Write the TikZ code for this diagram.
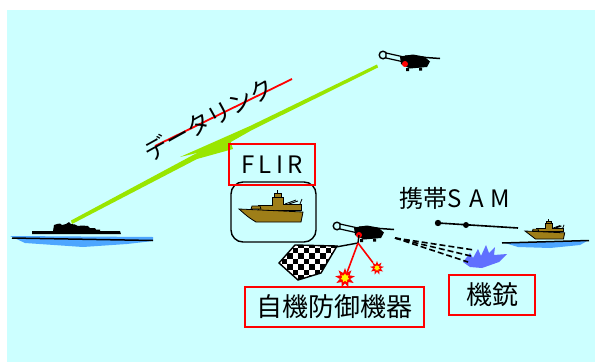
\documentclass[tikz,border=0pt]{standalone}
\usepackage{fontspec}
\newfontfamily\jfont{Noto Sans CJK JP}
\newfontfamily\jwide[LetterSpace=30]{Noto Sans CJK JP}
\newfontfamily\jspaced[LetterSpace=18]{Noto Sans CJK JP}
\usepackage{tikz}
\usetikzlibrary{shapes.geometric, positioning}
\definecolor{sky}{HTML}{CCFFFF}
\definecolor{linkgreen}{HTML}{99E600}
\definecolor{sea}{HTML}{4DA6FF}
\definecolor{hullc}{HTML}{9E7E18}
\definecolor{splashc}{HTML}{6070FF}

\begin{document}
\begin{tikzpicture}[x=1pt, y=-1pt,
    tag/.style={draw=red, line width=2.6pt, inner sep=0pt, text=black},
    jp/.style={font=\jfont\fontsize{#1}{#1}\selectfont},
    fire/.style={line width=1.6pt, color=red},
    tracer/.style={dash pattern=on 6pt off 3pt, line width=1.6pt},
    boom/.style={star, star points=9, star point ratio=1.9, fill=red, inner sep=0pt},
    core/.style={star, star points=7, star point ratio=1.6, fill=yellow, inner sep=0pt},
    heli/.pic={
      % tail rotor and boom
      \draw[line width=1.4pt, fill=sky] (0,0) circle (3.8);
      \draw[line width=1.2pt, fill=sky] (3,-2) -- (21,2) -- (21,7) -- (3,3) -- cycle;
      % fuselage, rotor, skids
      \fill (17,1.5) -- (30,-0.5) -- (41,1.5) -- (47,6.5) -- (44,12) -- (27,13.5) -- (18,9) -- cycle;
      \draw[line width=1.5pt] (22,1) -- (57,3.5);
      \fill (23,13) rectangle (26,16) (36,12.5) rectangle (39,15.5);
      \fill[red] (22,9) circle (3);
      \coordinate (-hub) at (22,9);
    },
    boat/.pic={
      % deck house, bridge, gun, rack
      \filldraw[fill=hullc, line width=0.7pt] (19,1) -- (19,-4) -- (33,-4) -- (33,-12) -- (44,-12) -- (44,-5) -- (62,-5) -- (62,1) -- cycle;
      \filldraw[fill=hullc, line width=0.7pt] (35,-12) rectangle (42,-16);
      \draw[line width=0.8pt] (38,-16) -- (38,-19);
      \filldraw[fill=hullc, line width=0.7pt] (12,0) -- (13,-3) -- (21,-3) -- (22,0) -- cycle;
      \draw[line width=0.8pt] (46,-5) -- (57,-9) (50,-5) -- (59,-8) (61,-5) -- (63,-10);
      % hull
      \filldraw[fill=hullc, line width=0.8pt] (0,0) -- (64,3) -- (62,13) -- (17,13) .. controls (9,8) .. (0,0) -- cycle;
    },
  ]
  \useasboundingbox (0,0) rectangle (595,362);
  \fill[sky] (7,10) rectangle (595,362);

  % ship on the left
  \fill[sea] (10,236) -- (153,237) -- (153,241) -- (127,244) -- (83,247) -- (25,243) -- cycle;
  \draw[line width=1.5pt] (12,238) -- (153,240.5);
  \fill (32,231) -- (120,231) -- (121,234) -- (32,234) -- cycle;
  \fill (53,231) -- (54,225) -- (57,224) -- (60,223.5) -- (62,225) -- (66,224) -- (69,222) -- (71,224) -- (75,224.5) -- (78,226) -- (82,225.5) -- (88,226) -- (90,228) -- (95,228) -- (96,229.5) -- (100,229.5) -- (100,231) -- cycle;
  \coordinate (ship) at (72,222);

  % helicopters
  \pic (ha) at (383,55) {heli};
  \pic (hb) at (337,226) {heli};
  \coordinate (linkend) at (377,66);

  % data link bolt
  \fill[linkgreen] (ship) ++(-1,-1.5) -- (195,154) -- (229,137) -- (233,149) -- (197,159) -- (72,224) -- cycle;
  \fill[linkgreen] (linkend) ++(0,-1.5) -- (250,126) -- (180,157) -- (222,147) -- (252,130) -- (378,67.5) -- cycle;
  \draw[red, line width=1.8pt] (155,146) -- (292,79);
  \node[jp=24, rotate=29] (dl) at (209,119) {データリンク};

  % FLIR view
  \node[draw, line width=1.4pt, rounded corners=12pt, minimum width=85pt, minimum height=60pt] (view) at (273.5,212) {};
  \pic at (239,209) {boat};
  \node[tag, jp=24, minimum width=86pt, minimum height=41pt] (flir) at (272,164.5) {\jspaced FLIR};

  % decoy net
  \coordinate (netcorner) at (336,247);
  \begin{scope}
    \clip (279,263) -- (295,245) -- (337,246) -- (321,273) -- (298,280) -- cycle;
    \fill[white] (270,240) rectangle (340,285);
    \foreach \i in {0,...,12}{
      \foreach \j in {0,...,8}{
        \ifodd\numexpr\i+\j\relax\else
          \fill (276+\i*5.5,242+\j*5.5) rectangle ++(5.5,5.5);
        \fi
      }
    }
  \end{scope}
  \draw[line width=1.4pt] (279,263) -- (295,245) -- (337,246) -- (321,273) -- (298,280) -- cycle;

  % flares
  \coordinate (hook) at (358,243);
  \node[boom, minimum size=20pt] (boomA) at (345,278) {};
  \node[core, minimum size=9pt] (boomAc) at (boomA) {};
  \node[boom, minimum size=14pt] (boomB) at (377,268) {};
  \node[core, minimum size=6pt] (boomBc) at (boomB) {};
  \draw[line width=1.4pt] (hb-hub) -- (hook) -- (netcorner);
  \draw[fire] (hook) -- (boomA);
  \draw[fire] (hook) -- (boomB);

  % gun fire
  \coordinate (muzzle) at (395,238);
  \fill[splashc] (463,262) -- (470,253) -- (473,258) -- (478,249) -- (481,256) -- (486,245) -- (489,253) -- (495,247) -- (494,255) -- (507,254) -- (499,262) -- (482,268) -- (470,267) -- cycle;
  \coordinate (sp1) at (474,250);
  \coordinate (sp2) at (471,256);
  \coordinate (sp3) at (468,262);
  \draw[tracer] (muzzle) -- (sp1);
  \draw[tracer] (muzzle) -- (sp2);
  \draw[tracer] (muzzle) -- (sp3);

  % boat on the right
  \fill[sea] (505,243) -- (588,240.5) -- (580,245) -- (550,248) -- (518,247) -- cycle;
  \draw[line width=1.5pt] (502,243) -- (589,240.5);
  \pic[scale=0.62] at (525,231) {boat};

  % missile
  \coordinate (samA) at (438,223);
  \coordinate (samB) at (518,228);
  \draw[line width=1.6pt] (samA) -- (samB);
  \fill (samA) circle (3.2);
  \fill (466,225) circle (3);
  \node[jp=24] (sam) at (455,198) {携帯\jwide SAM};

  % labels
  \node[tag, jp=26, minimum width=179pt, minimum height=40pt] (defence) at (334.5,307) {自機防御機器};
  \node[tag, jp=26, minimum width=86pt, minimum height=40pt] (gun) at (492,295) {機銃};
\end{tikzpicture}
\end{document}
